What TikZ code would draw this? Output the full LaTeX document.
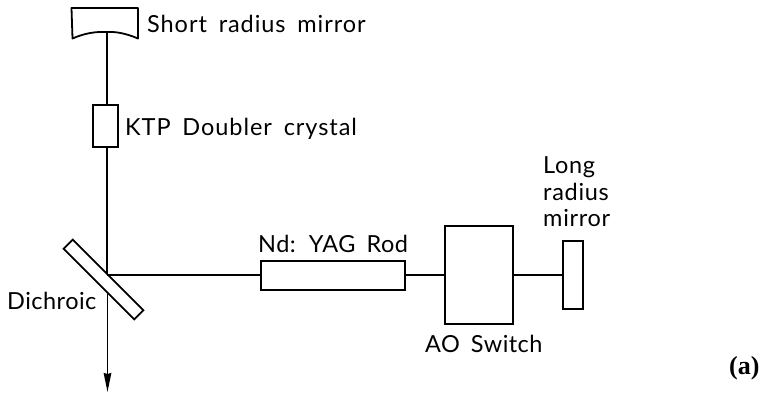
\documentclass[tikz,border=0pt]{standalone}
\usepackage{fontspec}
\setmainfont{Liberation Sans}
\newfontfamily\lab[LetterSpace=3,WordSpace=1.7]{Lato}
\newfontfamily\labw[LetterSpace=4,WordSpace=1.7]{Lato}
\newfontfamily\labn[LetterSpace=2,WordSpace=1.7]{Lato}
\newfontfamily\tagf{Liberation Serif}
\usetikzlibrary{arrows.meta}
\tikzset{
  optic/.style={draw,line width=1.8pt,fill=white,inner sep=0pt,anchor=center},
  beam/.style={line width=1.6pt},
  lbl/.style={font=\lab\fontsize{23.5}{27}\selectfont,inner sep=0pt,anchor=base west,text=black},
  lblw/.style={lbl,font=\labw\fontsize{23.5}{27}\selectfont},
  lbln/.style={lbl,font=\labn\fontsize{23.5}{27}\selectfont},
}
\begin{document}
\begin{tikzpicture}[x=1pt,y=-1pt]
\useasboundingbox (0,0) rectangle (762,397);
% beams
\coordinate (mirrorc) at (106.7,32);
\coordinate (hit) at (106.7,275);
\coordinate (below) at (107.5,294);
\coordinate (out) at (107.5,392);
% optics
\draw[line width=1.8pt,line join=round] (71.5,8) -- (138,8) -- (138,38.5)
  .. controls (125,33) and (115,31.5) .. (mirrorc)
  .. controls (96,31.5) and (85,33) .. (72.5,38.5) -- cycle;
\node[optic,minimum width=25pt,minimum height=42pt] (ktp) at (105.5,126) {};
\draw[beam] (mirrorc) -- (mirrorc |- ktp.north);
\draw[beam] (mirrorc |- ktp.south) -- (hit);
\node[optic,minimum width=100pt,minimum height=13pt,rotate=-45] (dich) at (103.5,279.5) {};
\node[optic,minimum width=144pt,minimum height=29pt] (rod) at (333,275.5) {};
\node[optic,minimum width=68pt,minimum height=98pt] (ao) at (479,275) {};
\node[optic,minimum width=20pt,minimum height=68pt] (long) at (573,275) {};
% connectors
\draw[beam] (hit) -- (hit -| rod.west);
\draw[beam] (rod.east |- ao.west) -- (ao.west);
\draw[beam] (ao.east) -- (long.west);
\draw[line width=1.8pt,-{Stealth[length=19pt,width=7.5pt,inset=1pt]}] (below) -- (out);
% labels
\node[lblw] (t1) at (147,32) {Short radius mirror};
\node[lblw] (t2) at (125,135) {KTP Doubler crystal};
\node[lbln] (t3) at (7,309) {Dichroic};
\node[lbln] (t4) at (258,252) {Nd: YAG Rod};
\node[lbln] (t5) at (425,352) {AO Switch};
\node[lbl] (t6) at (543,173) {Long};
\node[lbl] (t7) at (543,200) {radius};
\node[lbl] (t8) at (543,226) {mirror};
\node[font=\tagf\bfseries\fontsize{26}{30}\selectfont,inner sep=0pt,anchor=base west] (tag) at (729,374) {(a)};
\end{tikzpicture}
\end{document}
